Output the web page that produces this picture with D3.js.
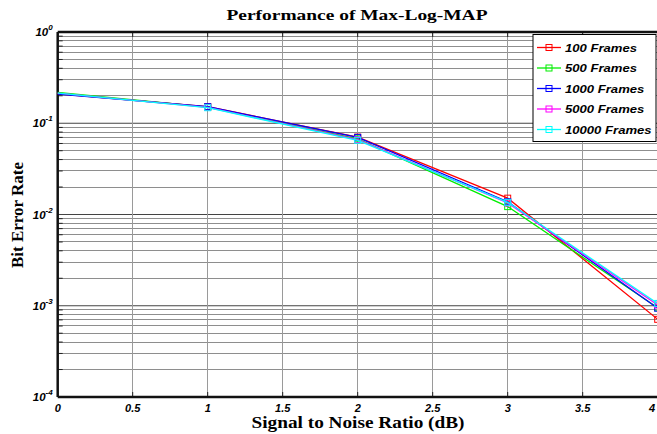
<!DOCTYPE html>
<html><head><meta charset="utf-8">
<script src="https://cdn.jsdelivr.net/npm/d3@7"></script>
<style>body{margin:0;background:#fff}svg{display:block}</style>
</head><body>
<svg id="c" width="657" height="434"></svg>
<script>
const snr = [0, 1, 2, 3, 4];
const ber100 = [0.210, 0.152, 0.0705, 0.0151, 0.00071];
const ber500 = [0.218, 0.150, 0.0675, 0.0122, 0.00095];
const ber1000 = [0.208, 0.152, 0.0700, 0.0138, 0.00094];
const ber5000 = [0.214, 0.149, 0.0660, 0.0134, 0.00102];
const ber10000 = [0.214, 0.148, 0.0650, 0.0136, 0.00106];
const seriesNames = ["100 Frames","500 Frames","1000 Frames","5000 Frames","10000 Frames"];
const seriesColors = ["#ff0000","#00ee00","#0000ff","#ff00ff","#00ffff"];
const xTicks = [0,0.5,1,1.5,2,2.5,3,3.5,4];
const yDecades = [0,-1,-2,-3,-4];
const title = "Performance of Max-Log-MAP";
const xLabel = "Signal to Noise Ratio (dB)";
const yLabel = "Bit Error Rate";

const series = [ber100, ber500, ber1000, ber5000, ber10000];
const svg = d3.select("#c");
const L = 57.7, R = 657.7, T = 32, B = 397;
const x = d3.scaleLinear().domain([0,4]).range([L,R]);
const y = d3.scaleLog().domain([1e-4,1]).range([B,T]);

// grid
const g = svg.append("g");
const minor = [];
for (let e=-4;e<0;e++) for (let m=2;m<10;m++) minor.push(m*Math.pow(10,e));
g.selectAll("line.h").data(minor).enter().append("line")
  .attr("x1",L).attr("x2",R).attr("y1",d=>y(d)).attr("y2",d=>y(d))
  .attr("stroke","#8e8e8e").attr("stroke-width",1).attr("shape-rendering","crispEdges");
g.selectAll("line.d").data(yDecades.slice(1,4)).enter().append("line")
  .attr("x1",L).attr("x2",R).attr("y1",d=>y(Math.pow(10,d))).attr("y2",d=>y(Math.pow(10,d)))
  .attr("stroke","#444").attr("stroke-width",1.2);
g.selectAll("line.v").data(xTicks.slice(1)).enter().append("line")
  .attr("x1",d=>x(d)).attr("x2",d=>x(d)).attr("y1",T).attr("y2",B)
  .attr("stroke","#9a9a9a").attr("stroke-width",1).attr("shape-rendering","crispEdges");
// inner ticks
g.selectAll("line.tl").data(minor).enter().append("line")
  .attr("x1",L).attr("x2",L+5).attr("y1",d=>y(d)).attr("y2",d=>y(d)).attr("stroke","#222");
g.selectAll("line.tb").data(xTicks).enter().append("line")
  .attr("x1",d=>x(d)).attr("x2",d=>x(d)).attr("y1",B).attr("y2",B-5).attr("stroke","#222");
g.selectAll("line.tt").data(xTicks).enter().append("line")
  .attr("x1",d=>x(d)).attr("x2",d=>x(d)).attr("y1",T).attr("y2",T+5).attr("stroke","#222");

// axes frame
svg.append("line").attr("x1",L).attr("x2",R).attr("y1",B).attr("y2",B).attr("stroke","#111").attr("stroke-width",2.5);
svg.append("line").attr("x1",L).attr("x2",R).attr("y1",T).attr("y2",T).attr("stroke","#111").attr("stroke-width",2.5);
svg.append("line").attr("x1",L).attr("x2",L).attr("y1",T).attr("y2",B).attr("stroke","#111").attr("stroke-width",2.5);

// tick labels
svg.selectAll("text.xt").data(xTicks).enter().append("text")
  .attr("x",d=>Math.min(x(d),652)).attr("y",B+15).attr("text-anchor","middle")
  .attr("font-family","Liberation Sans, Arial, sans-serif").attr("font-weight","bold").attr("font-style","italic")
  .attr("font-size",11).text(d=>d3.format("~g")(d));
const yt = svg.selectAll("text.yt").data(yDecades).enter().append("text")
  .attr("x",L-5).attr("y",d=>y(Math.pow(10,d))+4).attr("text-anchor","end")
  .attr("font-family","Liberation Sans, Arial, sans-serif").attr("font-weight","bold").attr("font-style","italic")
  .attr("font-size",11.5);
yt.append("tspan").text("10");
yt.append("tspan").attr("dy",-6).attr("font-size",8).text(d=>String(d));

// lines
const line = d3.line().x((d,i)=>x(snr[i])).y(d=>y(d));
series.forEach((s,k)=>{
  svg.append("path").attr("d",line(s)).attr("fill","none").attr("stroke",seriesColors[k]).attr("stroke-width",1.3);
  svg.selectAll(null).data(s.slice(1)).enter().append("rect")
    .attr("x",(d,i)=>x(snr[i+1])-3).attr("y",d=>y(d)-3).attr("width",6).attr("height",6)
    .attr("fill","none").attr("stroke",seriesColors[k]).attr("stroke-width",1);
});

// legend
const lg = svg.append("g");
lg.append("rect").attr("x",533).attr("y",34.5).attr("width",123).attr("height",107)
  .attr("fill","#fff").attr("stroke","#000").attr("stroke-width",1);
seriesNames.forEach((n,k)=>{
  const yy = 47.5 + k*20.5;
  lg.append("line").attr("x1",537).attr("x2",561).attr("y1",yy).attr("y2",yy).attr("stroke",seriesColors[k]).attr("stroke-width",1.3);
  lg.append("rect").attr("x",546).attr("y",yy-3).attr("width",6).attr("height",6).attr("fill","none").attr("stroke",seriesColors[k]);
  const t = lg.append("text").attr("x",565).attr("y",yy+4).attr("font-family","Liberation Sans, Arial, sans-serif")
    .attr("font-weight","bold").attr("font-style","italic").attr("font-size",11).text(n);
  const w = t.node().getComputedTextLength();
  t.attr("textLength", w*1.19).attr("lengthAdjust","spacingAndGlyphs");
});

// titles
svg.append("text").attr("x",357).attr("y",20).attr("text-anchor","middle")
  .attr("font-family","Liberation Serif, Times New Roman, serif").attr("font-weight","bold").attr("font-size",15)
  .attr("textLength",261).attr("lengthAdjust","spacingAndGlyphs").text(title);
svg.append("text").attr("x",358).attr("y",428).attr("text-anchor","middle")
  .attr("font-family","Liberation Serif, Times New Roman, serif").attr("font-weight","bold").attr("font-size",16)
  .attr("textLength",213).attr("lengthAdjust","spacingAndGlyphs").text(xLabel);
svg.append("text").attr("transform","translate(23,215) rotate(-90)").attr("text-anchor","middle")
  .attr("font-family","Liberation Serif, Times New Roman, serif").attr("font-weight","bold").attr("font-size",16)
  .attr("textLength",106).attr("lengthAdjust","spacingAndGlyphs").text(yLabel);
</script>
</body></html>
